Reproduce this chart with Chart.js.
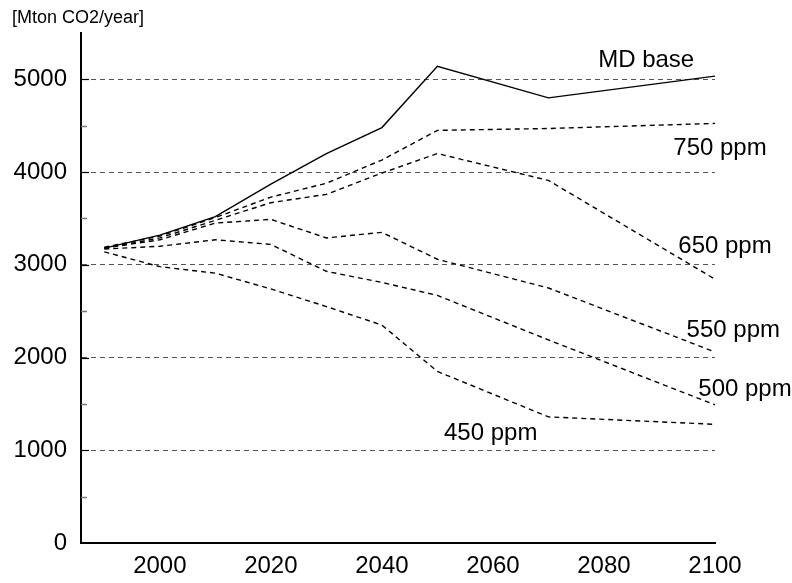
<!DOCTYPE html>
<html><head><meta charset="utf-8">
<script src="https://cdn.jsdelivr.net/npm/chart.js@4"></script>
<style>html,body{margin:0;padding:0;background:#fff}#wrap{width:792px;height:583px;position:relative}</style>
</head><body><div id="wrap"><canvas id="c"></canvas></div>
<script>
const years = [1990, 2000, 2010, 2020, 2030, 2040, 2050, 2070, 2100];
const mdBase = [3180, 3320, 3520, 3870, 4200, 4480, 5140, 4800, 5035];
const ppm750 = [3190, 3310, 3510, 3730, 3880, 4130, 4450, 4470, 4525];
const ppm650 = [3180, 3290, 3480, 3670, 3760, 3990, 4200, 3910, 2845];
const ppm550 = [3180, 3270, 3450, 3490, 3290, 3350, 3060, 2750, 2060];
const ppm500 = [3170, 3200, 3270, 3220, 2930, 2810, 2670, 2190, 1490];
const ppm450 = [3140, 2980, 2910, 2740, 2550, 2350, 1850, 1360, 1280];
const seriesNames = ['MD base', '750 ppm', '650 ppm', '550 ppm', '500 ppm', '450 ppm'];
const xTicks = [2000, 2020, 2040, 2060, 2080, 2100];
const yTicks = [0, 1000, 2000, 3000, 4000, 5000];
const yMinorTicks = [500, 1500, 2500, 3500, 4500];
const yUnit = '[Mton CO2/year]';

const FONT = "'Liberation Sans', Arial, Helvetica, sans-serif";
Chart.defaults.font.family = FONT;
Chart.defaults.color = '#000';

const allSeries = [mdBase, ppm750, ppm650, ppm550, ppm500, ppm450];
const datasets = allSeries.map((vals, i) => ({
  label: seriesNames[i],
  data: years.map((y, k) => ({x: y, y: vals[k]})),
  borderColor: '#000',
  borderWidth: 1.4,
  borderDash: i === 0 ? [] : [5, 4],
  pointRadius: 0,
  tension: 0,
  fill: false
}));

// label anchors (data space) for series names
const labelAnchors = [
  [2087.6, 5205], [2100.9, 4256], [2101.8, 3200],
  [2103.3, 2295], [2105.4, 1659], [2059.6, 1185]
];

const extras = {
  id: 'extras',
  afterDraw(chart) {
    const {ctx, chartArea, scales} = chart;
    const ys = scales.y, xs = scales.x;
    ctx.save();
    // minor inward ticks
    ctx.strokeStyle = '#777';
    ctx.lineWidth = 1.5;
    yMinorTicks.forEach(v => {
      const py = Math.round(ys.getPixelForValue(v)) + 0.5;
      ctx.beginPath(); ctx.moveTo(chartArea.left, py); ctx.lineTo(chartArea.left + 6, py); ctx.stroke();
    });
    // major inward ticks
    ctx.strokeStyle = '#000';
    ctx.lineWidth = 1.2;
    yTicks.forEach(v => {
      if (v === 0) return;
      const py = Math.round(ys.getPixelForValue(v)) + 0.5;
      ctx.beginPath(); ctx.moveTo(chartArea.left, py); ctx.lineTo(chartArea.left + 8, py); ctx.stroke();
    });
    // unit label
    ctx.fillStyle = '#000';
    ctx.font = '18px ' + FONT;
    ctx.textAlign = 'left';
    ctx.textBaseline = 'alphabetic';
    ctx.fillText(yUnit, 12, 23);
    // series labels
    ctx.font = '24px ' + FONT;
    ctx.textAlign = 'center';
    ctx.textBaseline = 'middle';
    seriesNames.forEach((n, i) => {
      const [ax, ay] = labelAnchors[i];
      ctx.fillText(n, xs.getPixelForValue(ax), ys.getPixelForValue(ay));
    });
    ctx.restore();
  }
};

new Chart(document.getElementById('c'), {
  type: 'line',
  data: {datasets},
  plugins: [extras],
  options: {
    responsive: true,
    maintainAspectRatio: false,
    animation: false,
    layout: {padding: {left: 0, right: 77, top: 33, bottom: 0}},
    plugins: {legend: {display: false}, tooltip: {enabled: false}},
    scales: {
      x: {
        type: 'linear',
        min: 1985.8,
        max: 2100,
        afterBuildTicks: s => { s.ticks = xTicks.map(v => ({value: v})); },
        afterFit: s => { s.height = 40; },
        grid: {display: false, drawTicks: false},
        border: {display: true, color: '#000', width: 2},
        ticks: {font: {size: 24}, color: '#000', padding: 9, maxRotation: 0, autoSkip: false,
          callback: v => String(v)}
      },
      y: {
        type: 'linear',
        min: 0,
        max: 5500,
        afterBuildTicks: s => { s.ticks = yTicks.map(v => ({value: v})); },
        afterFit: s => { s.width = 81; },
        grid: {
          drawTicks: false,
          color: c => (c.tick && c.tick.value > 0) ? '#555' : 'rgba(0,0,0,0)',
          lineWidth: 1
        },
        border: {display: true, color: '#000', width: 2, dash: [5, 4]},
        ticks: {font: {size: 24}, color: '#000', padding: 14, autoSkip: false,
          callback: v => String(v)}
      }
    }
  }
});
</script>
</body></html>
